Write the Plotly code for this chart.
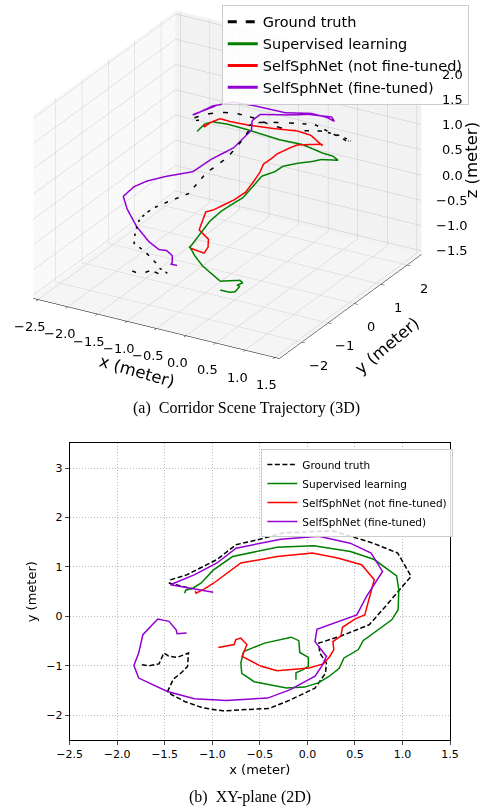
import plotly.graph_objects as go

# ---------------- data ----------------
gt_x = [-1.74, -1.67, -1.56, -1.51, -1.46, -1.37, -1.25, -1.26, -1.32, -1.41, -1.47, -1.42, -1.29,
        -1.10, -0.89, -0.40, -0.18, 0.08, 0.19, 0.20, 0.13, 0.12, 0.35, 0.65, 0.82, 1.09, 0.95, 0.69,
        0.27, -0.25, -0.52, -0.75, -0.95, -1.12, -1.27, -1.44, -1.45, -1.32, -1.21]
gt_y = [-0.98, -1.00, -0.96, -0.74, -0.80, -0.83, -0.74, -1.01, -1.13, -1.27, -1.52, -1.59, -1.72,
        -1.85, -1.91, -1.86, -1.69, -1.45, -1.15, -0.94, -0.74, -0.54, -0.40, -0.17, 0.20, 0.81, 1.28, 1.48,
        1.73, 1.69, 1.55, 1.45, 1.15, 0.98, 0.84, 0.74, 0.67, 0.61, 0.56]
gt_z = [-1.50, -1.50, -1.50, -1.50, -1.50, -1.50, -1.50, -1.30, -1.10, -0.90, -0.67, -0.40, -0.07,
        0.18, 0.39, 0.75, 1.15, 1.45, 1.70, 1.80, 1.82, 1.80, 1.82, 1.80, 1.68, 1.20, 0.98, 0.93,
        0.81, 0.69, 0.77, 0.88, 1.04, 1.07, 1.05, 0.97, 0.92, 1.00, 1.08]

sup_x = [-0.12, -0.12, -0.05, 0.01, 0.01, -0.08, -0.09, -0.17, -0.45, -0.67, -0.70, -0.69, -0.56,
         -0.22, -0.03, 0.12, 0.23, 0.335, 0.385, 0.536, 0.586, 0.737, 0.887, 0.954, 0.961, 0.938,
         0.703, 0.452, 0.067, -0.318, -0.786, -0.987, -1.12, -1.205, -1.28, -1.29]
sup_y = [-1.28, -1.14, -1.08, -1.01, -0.83, -0.73, -0.49, -0.42, -0.54, -0.71, -0.94, -1.15, -1.32,
         -1.45, -1.43, -1.34, -1.21, -1.05, -0.84, -0.67, -0.49, -0.27, -0.07, 0.135, 0.54, 0.82,
         1.15, 1.31, 1.43, 1.40, 1.21, 0.94, 0.67, 0.57, 0.53, 0.47]
sup_z = [-1.30, -1.37, -1.40, -1.40, -1.36, -1.40, -1.45, -1.45, -1.50, -1.20, -0.92, -0.66, -0.48,
         0.10, 0.35, 0.50, 0.60, 0.80, 0.93, 1.00, 1.05, 1.07, 1.07, 1.05, 0.89, 0.77,
         0.66, 0.59, 0.60, 0.60, 0.74, 0.89, 1.00, 0.97, 0.86, 0.84]

nft_x = [-0.937, -0.92, -0.77, -0.753, -0.70, -0.636, -0.686, -0.485, -0.318, 0.017, 0.168, 0.235,
         0.278, 0.268, 0.352, 0.369, 0.503, 0.603, 0.653, 0.703, 0.57, 0.318, 0.051, -0.318, -0.70,
         -0.887, -0.987, -1.087, -1.17, -1.18]
nft_y = [-0.627, -0.62, -0.57, -0.47, -0.44, -0.57, -0.81, -1.01, -1.10, -1.045, -0.96, -0.81,
         -0.67, -0.51, -0.40, -0.22, -0.05, 0.03, 0.405, 0.74, 1.045, 1.18, 1.28, 1.21, 1.08,
         0.81, 0.67, 0.55, 0.47, 0.51]
nft_z = [-0.92, -0.95, -1.00, -1.06, -0.94, -0.71, -0.45, 0.04, 0.16, 0.44, 0.60, 0.77,
         0.91, 1.01, 1.10, 1.13, 1.22, 1.28, 1.16, 1.05, 0.87, 0.95, 0.92, 0.89, 0.90,
         1.02, 1.10, 1.05, 0.96, 1.00]

ft_x = [-1.27, -1.37, -1.38, -1.456, -1.573, -1.64, -1.73, -1.774, -1.824, -1.774, -1.472, -1.188,
        -0.853, -0.418, -0.18, 0.08, 0.15, 0.20, 0.13, 0.08, 0.10, 0.52, 0.62, 0.79, 0.67, 0.45,
        0.12, -0.28, -0.75, -0.95, -1.19, -1.42, -1.44, -0.99]
ft_y = [-0.337, -0.351, -0.27, -0.10, -0.054, -0.189, -0.371, -0.742, -0.991, -1.247, -1.517, -1.666,
        -1.699, -1.652, -1.48, -1.21, -1.01, -0.81, -0.64, -0.51, -0.26, 0.03, 0.40, 0.91, 1.28, 1.48,
        1.62, 1.56, 1.38, 1.08, 0.84, 0.67, 0.64, 0.49]
ft_z = [-1.50, -1.50, -1.50, -1.45, -1.40, -1.35, -1.15, -0.72, -0.29, 0.07, 0.45, 0.70,
        0.90, 1.10, 1.35, 1.55, 1.68, 1.78, 1.82, 1.82, 1.85, 1.85, 1.75, 1.55, 1.29, 1.23,
        1.16, 1.08, 1.16, 1.28, 1.23, 1.06, 1.06, 1.42]

names = ["Ground truth", "Supervised learning", "SelfSphNet (not fine-tuned)", "SelfSphNet (fine-tuned)"]
colors = ["black", "green", "red", "#9400d3"]
dashes3 = ["dash", "solid", "solid", "solid"]
dashes2 = ["5px,2.5px", "solid", "solid", "solid"]
series = [(gt_x, gt_y, gt_z), (sup_x, sup_y, sup_z), (nft_x, nft_y, nft_z), (ft_x, ft_y, ft_z)]

x3_ticks = [-2.5, -2.0, -1.5, -1.0, -0.5, 0.0, 0.5, 1.0, 1.5]
y3_ticks = [-2, -1, 0, 1, 2]
z3_ticks = [-1.5, -1.0, -0.5, 0.0, 0.5, 1.0, 1.5, 2.0]
x2_ticks = [-2.5, -2.0, -1.5, -1.0, -0.5, 0.0, 0.5, 1.0, 1.5]
y2_ticks = [-2, -1, 0, 1, 2, 3]

X3_RANGE = [-2.58, 1.58]
Y3_RANGE = [-2.85, 2.55]
Z3_RANGE = [-1.57, 2.07]


def lab(v, fmt):
    s = format(v, fmt)
    return s.replace("-", "\u2212")


FONT = "DejaVu Sans"
fig = go.Figure()

for (xs, ys, zs), n, c, d in zip(series, names, colors, dashes3):
    fig.add_trace(go.Scatter3d(x=xs, y=ys, z=zs, mode="lines", name=n,
                               line=dict(color=c, width=3, dash=d),
                               legend="legend", hoverinfo="skip"))
for (xs, ys, zs), n, c, d in zip(series, names, colors, dashes2):
    fig.add_trace(go.Scatter(x=xs, y=ys, mode="lines", name=n,
                             line=dict(color=c, width=1.5, dash=d),
                             xaxis="x", yaxis="y", legend="legend2", hoverinfo="skip"))

ax3 = dict(showbackground=True, gridcolor="#c8c8c8", gridwidth=1, showline=True,
           linecolor="black", linewidth=1, ticks="outside", ticklen=4, tickcolor="black",
           showticklabels=False, showspikes=False, zeroline=False, title=dict(text=""))

tick_font3 = dict(size=13, family=FONT, color="black")
scene_ann = []
for v in x3_ticks:
    scene_ann.append(dict(x=v, y=Y3_RANGE[0], z=Z3_RANGE[0], text=lab(v, ".1f"), showarrow=False,
                          xshift=-8, yshift=-27, font=tick_font3))
for v in y3_ticks:
    scene_ann.append(dict(x=X3_RANGE[1], y=v, z=Z3_RANGE[0], text=lab(v, "d"), showarrow=False,
                          xshift=17, yshift=-23, font=tick_font3))
for v in z3_ticks:
    scene_ann.append(dict(x=X3_RANGE[1], y=Y3_RANGE[1], z=v, text=lab(v, ".1f"), showarrow=False,
                          xshift=31, yshift=0, font=tick_font3))

title_font3 = dict(size=16.5, family=FONT, color="black")

fig.update_layout(
    width=488, height=811, margin=dict(l=0, r=0, t=0, b=0),
    paper_bgcolor="white", plot_bgcolor="white",
    font=dict(family=FONT, color="black"),
    scene=dict(
        domain=dict(x=[0.0, 0.92], y=[0.545, 1.0]),
        xaxis=dict(ax3, range=X3_RANGE, tickvals=x3_ticks, backgroundcolor="#f9f9f9"),
        yaxis=dict(ax3, range=Y3_RANGE, tickvals=y3_ticks, backgroundcolor="#f2f2f2"),
        zaxis=dict(ax3, range=Z3_RANGE, tickvals=z3_ticks, backgroundcolor="#f5f5f5",
                   ticks="", showline=False),
        aspectmode="manual", aspectratio=dict(x=1.54, y=1.54, z=1.10),
        camera=dict(eye=dict(x=0.544, y=-0.942, z=0.508), up=dict(x=0, y=0, z=1),
                    center=dict(x=0, y=0, z=0), projection=dict(type="orthographic")),
        annotations=scene_ann,
    ),
    xaxis=dict(domain=[0.1215, 0.9379], range=[-2.5, 1.5], tickvals=x2_ticks,
               ticktext=[lab(v, ".1f") for v in x2_ticks], showgrid=True, gridcolor="#bdbdbd",
               griddash="1px,2px", gridwidth=1, showline=True, mirror=True, linecolor="black",
               linewidth=1, ticks="outside", ticklen=4, zeroline=False,
               tickfont=dict(size=11, family=FONT), title=dict(text="x (meter)", font=dict(size=13), standoff=4),
               anchor="y"),
    yaxis=dict(domain=[0.0875, 0.4534], range=[-2.5, 3.5], tickvals=y2_ticks,
               ticktext=[lab(v, "d") for v in y2_ticks], showgrid=True, gridcolor="#bdbdbd",
               griddash="1px,2px", gridwidth=1, showline=True, mirror=True, linecolor="black",
               linewidth=1, ticks="outside", ticklen=4, zeroline=False,
               tickfont=dict(size=11, family=FONT), title=dict(text="y (meter)", font=dict(size=13), standoff=6),
               anchor="x"),
    legend=dict(x=0.978, y=0.994, xanchor="right", yanchor="top", bgcolor="rgba(255,255,255,0.85)",
                bordercolor="#cccccc", borderwidth=1, font=dict(size=14.5, family=FONT), itemwidth=30),
    legend2=dict(x=0.945, y=0.4464, xanchor="right", yanchor="top", bgcolor="rgba(255,255,255,0.85)",
                 bordercolor="#cccccc", borderwidth=1, font=dict(size=10.5, family=FONT), itemwidth=30),
    annotations=[
        dict(text="x (meter)", x=130 / 488, y=1 - 372 / 811, xref="paper", yref="paper", showarrow=False,
             textangle=16, font=title_font3, xanchor="center", yanchor="middle"),
        dict(text="y (meter)", x=392 / 488, y=1 - 345 / 811, xref="paper", yref="paper", showarrow=False,
             textangle=-40, font=title_font3, xanchor="center", yanchor="middle"),
        dict(text="z (meter)", x=481 / 488, y=1 - 160 / 811, xref="paper", yref="paper", showarrow=False,
             textangle=-90, font=title_font3, xanchor="center", yanchor="middle"),
        dict(text="(a)  Corridor Scene Trajectory (3D)", x=0.5, y=1 - 408 / 811, xref="paper", yref="paper",
             showarrow=False, font=dict(family="Liberation Serif", size=16, color="black"),
             xanchor="center", yanchor="middle"),
        dict(text="(b)  XY-plane (2D)", x=0.508, y=1 - 797 / 811, xref="paper", yref="paper",
             showarrow=False, font=dict(family="Liberation Serif", size=16, color="black"),
             xanchor="center", yanchor="middle"),
    ],
)

fig.write_html("out.html")
